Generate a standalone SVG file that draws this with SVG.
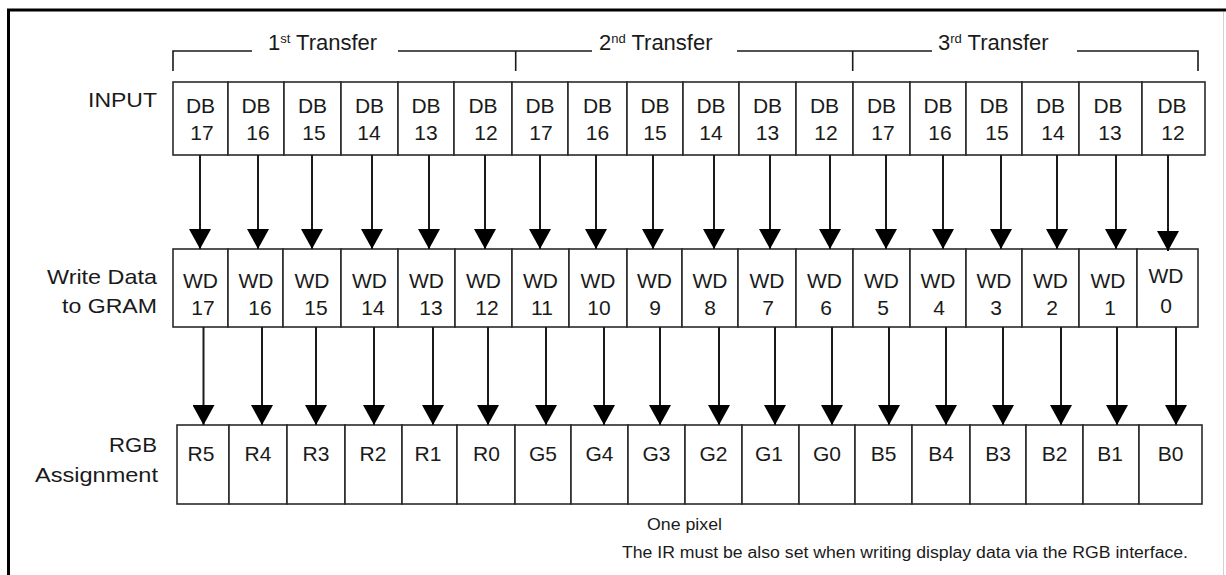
<svg xmlns="http://www.w3.org/2000/svg" width="1226" height="575" viewBox="0 0 1226 575">
<style>
  text { font-family: "Liberation Sans", Arial, sans-serif; fill: #1a1a1a; }
  .cell { fill: #ffffff; stroke: #2a2a2a; stroke-width: 1.6; }
  .ct { font-size: 21px; text-anchor: middle; }
  .lbl { font-size: 21px; text-anchor: end; }
  .ttl { font-size: 22px; }
  .note { font-size: 16px; }
  .brk { fill: none; stroke: #1a1a1a; stroke-width: 1.6; }
  .arr { stroke: #1a1a1a; stroke-width: 2; fill: none; marker-end: url(#ah); }
</style>
<defs>
  <marker id="ah" viewBox="0 0 20 22" markerWidth="20" markerHeight="22" refX="20" refY="11" orient="auto" markerUnits="userSpaceOnUse">
    <path d="M0,0 L20,11 L0,22 Z" fill="#000"/>
  </marker>
</defs>
<rect x="0" y="0" width="1226" height="575" fill="#ffffff"/>
<g id="frame">
  <line x1="8.5" y1="10" x2="8.5" y2="575" stroke="#000" stroke-width="3"/>
  <line x1="7" y1="10" x2="1226" y2="10" stroke="#000" stroke-width="3"/>
  <line x1="1223.5" y1="12" x2="1223.5" y2="575" stroke="#d0d0d0" stroke-width="1"/>
</g>
<g id="transfers">
  <path class="brk" d="M173,71 V51 H252 M398,51 H592 M515.7,51 V71 M737,51 H932 M852.7,51 V71 M1077,51 H1198 V71"/>
  <text class="ttl" x="268" y="50">1<tspan font-size="13" dy="-7">st</tspan><tspan dy="7"> Transfer</tspan></text>
  <text class="ttl" x="599" y="50">2<tspan font-size="13" dy="-7">nd</tspan><tspan dy="7"> Transfer</tspan></text>
  <text class="ttl" x="938" y="50">3<tspan font-size="13" dy="-7">rd</tspan><tspan dy="7"> Transfer</tspan></text>
</g>
<g id="row-labels">
  <text class="lbl" x="157" y="107" textLength="69" lengthAdjust="spacingAndGlyphs">INPUT</text>
  <text class="lbl" x="157" y="284" textLength="110" lengthAdjust="spacingAndGlyphs">Write Data</text>
  <text class="lbl" x="157" y="313" textLength="95" lengthAdjust="spacingAndGlyphs">to GRAM</text>
  <text class="lbl" x="157" y="452" textLength="48" lengthAdjust="spacingAndGlyphs">RGB</text>
  <text class="lbl" x="158" y="482" textLength="123" lengthAdjust="spacingAndGlyphs">Assignment</text>
</g>
<g id="input-row">
  <g id="in1-db17"><rect class="cell" x="173" y="82" width="55" height="73"/><text class="ct" x="200.5" y="113">DB</text><text class="ct" x="202" y="140">17</text></g>
  <g id="in1-db16"><rect class="cell" x="228" y="82" width="56" height="73"/><text class="ct" x="256" y="113">DB</text><text class="ct" x="258" y="140">16</text></g>
  <g id="in1-db15"><rect class="cell" x="284" y="82" width="57" height="73"/><text class="ct" x="312.5" y="113">DB</text><text class="ct" x="314" y="140">15</text></g>
  <g id="in1-db14"><rect class="cell" x="341" y="82" width="57" height="73"/><text class="ct" x="369.5" y="113">DB</text><text class="ct" x="369" y="140">14</text></g>
  <g id="in1-db13"><rect class="cell" x="398" y="82" width="56" height="73"/><text class="ct" x="426" y="113">DB</text><text class="ct" x="426" y="140">13</text></g>
  <g id="in1-db12"><rect class="cell" x="454" y="82" width="58" height="73"/><text class="ct" x="483" y="113">DB</text><text class="ct" x="486" y="140">12</text></g>
  <g id="in2-db17"><rect class="cell" x="512" y="82" width="56" height="73"/><text class="ct" x="540" y="113">DB</text><text class="ct" x="541" y="140">17</text></g>
  <g id="in2-db16"><rect class="cell" x="568" y="82" width="59" height="73"/><text class="ct" x="597.5" y="113">DB</text><text class="ct" x="597.5" y="140">16</text></g>
  <g id="in2-db15"><rect class="cell" x="627" y="82" width="56" height="73"/><text class="ct" x="655" y="113">DB</text><text class="ct" x="655" y="140">15</text></g>
  <g id="in2-db14"><rect class="cell" x="683" y="82" width="56" height="73"/><text class="ct" x="711" y="113">DB</text><text class="ct" x="711" y="140">14</text></g>
  <g id="in2-db13"><rect class="cell" x="739" y="82" width="57" height="73"/><text class="ct" x="767.5" y="113">DB</text><text class="ct" x="767.5" y="140">13</text></g>
  <g id="in2-db12"><rect class="cell" x="796" y="82" width="57" height="73"/><text class="ct" x="824.5" y="113">DB</text><text class="ct" x="826" y="140">12</text></g>
  <g id="in3-db17"><rect class="cell" x="853" y="82" width="57" height="73"/><text class="ct" x="881.5" y="113">DB</text><text class="ct" x="883" y="140">17</text></g>
  <g id="in3-db16"><rect class="cell" x="910" y="82" width="56" height="73"/><text class="ct" x="938" y="113">DB</text><text class="ct" x="940" y="140">16</text></g>
  <g id="in3-db15"><rect class="cell" x="966" y="82" width="56" height="73"/><text class="ct" x="994" y="113">DB</text><text class="ct" x="997" y="140">15</text></g>
  <g id="in3-db14"><rect class="cell" x="1022" y="82" width="57" height="73"/><text class="ct" x="1050.5" y="113">DB</text><text class="ct" x="1053" y="140">14</text></g>
  <g id="in3-db13"><rect class="cell" x="1079" y="82" width="63" height="73"/><text class="ct" x="1108" y="113">DB</text><text class="ct" x="1110" y="140">13</text></g>
  <g id="in3-db12"><rect class="cell" x="1142" y="82" width="63" height="73"/><text class="ct" x="1172" y="113">DB</text><text class="ct" x="1173" y="140">12</text></g>
</g>
<g id="wd-row">
  <g id="wd17"><rect class="cell" x="173" y="249" width="55" height="78"/><text class="ct" x="200.5" y="288">WD</text><text class="ct" x="203" y="315">17</text></g>
  <g id="wd16"><rect class="cell" x="228" y="249" width="55" height="78"/><text class="ct" x="256" y="288">WD</text><text class="ct" x="260" y="315">16</text></g>
  <g id="wd15"><rect class="cell" x="283" y="249" width="58" height="78"/><text class="ct" x="312" y="288">WD</text><text class="ct" x="316" y="315">15</text></g>
  <g id="wd14"><rect class="cell" x="341" y="249" width="57" height="78"/><text class="ct" x="369.5" y="288">WD</text><text class="ct" x="373" y="315">14</text></g>
  <g id="wd13"><rect class="cell" x="398" y="249" width="57" height="78"/><text class="ct" x="426.5" y="288">WD</text><text class="ct" x="431" y="315">13</text></g>
  <g id="wd12"><rect class="cell" x="455" y="249" width="57" height="78"/><text class="ct" x="483.5" y="288">WD</text><text class="ct" x="487" y="315">12</text></g>
  <g id="wd11"><rect class="cell" x="512" y="249" width="57" height="78"/><text class="ct" x="540.5" y="288">WD</text><text class="ct" x="542" y="315">11</text></g>
  <g id="wd10"><rect class="cell" x="569" y="249" width="58" height="78"/><text class="ct" x="598" y="288">WD</text><text class="ct" x="599" y="315">10</text></g>
  <g id="wd9"><rect class="cell" x="627" y="249" width="55" height="78"/><text class="ct" x="654.5" y="288">WD</text><text class="ct" x="655" y="315">9</text></g>
  <g id="wd8"><rect class="cell" x="682" y="249" width="56" height="78"/><text class="ct" x="710" y="288">WD</text><text class="ct" x="710" y="315">8</text></g>
  <g id="wd7"><rect class="cell" x="738" y="249" width="58" height="78"/><text class="ct" x="767" y="288">WD</text><text class="ct" x="768" y="315">7</text></g>
  <g id="wd6"><rect class="cell" x="796" y="249" width="57" height="78"/><text class="ct" x="824.5" y="288">WD</text><text class="ct" x="826" y="315">6</text></g>
  <g id="wd5"><rect class="cell" x="853" y="249" width="57" height="78"/><text class="ct" x="881.5" y="288">WD</text><text class="ct" x="883" y="315">5</text></g>
  <g id="wd4"><rect class="cell" x="910" y="249" width="56" height="78"/><text class="ct" x="938" y="288">WD</text><text class="ct" x="939" y="315">4</text></g>
  <g id="wd3"><rect class="cell" x="966" y="249" width="56" height="78"/><text class="ct" x="994" y="288">WD</text><text class="ct" x="996" y="315">3</text></g>
  <g id="wd2"><rect class="cell" x="1022" y="249" width="57" height="78"/><text class="ct" x="1050.5" y="288">WD</text><text class="ct" x="1052" y="315">2</text></g>
  <g id="wd1"><rect class="cell" x="1079" y="249" width="58" height="78"/><text class="ct" x="1108" y="288">WD</text><text class="ct" x="1110" y="315">1</text></g>
  <g id="wd0"><rect class="cell" x="1137" y="249" width="61" height="78"/><text class="ct" x="1166" y="283">WD</text><text class="ct" x="1166" y="313">0</text></g>
</g>
<g id="rgb-row">
  <g id="r5"><rect class="cell" x="177" y="425" width="52" height="79"/><text class="ct" x="201" y="461">R5</text></g>
  <g id="r4"><rect class="cell" x="229" y="425" width="58" height="79"/><text class="ct" x="258" y="461">R4</text></g>
  <g id="r3"><rect class="cell" x="287" y="425" width="58" height="79"/><text class="ct" x="316" y="461">R3</text></g>
  <g id="r2"><rect class="cell" x="345" y="425" width="57" height="79"/><text class="ct" x="373" y="461">R2</text></g>
  <g id="r1"><rect class="cell" x="402" y="425" width="55" height="79"/><text class="ct" x="428" y="461">R1</text></g>
  <g id="r0"><rect class="cell" x="457" y="425" width="58" height="79"/><text class="ct" x="486.5" y="461">R0</text></g>
  <g id="g5"><rect class="cell" x="515" y="425" width="56" height="79"/><text class="ct" x="543" y="461">G5</text></g>
  <g id="g4"><rect class="cell" x="571" y="425" width="57" height="79"/><text class="ct" x="599.5" y="461">G4</text></g>
  <g id="g3"><rect class="cell" x="628" y="425" width="57" height="79"/><text class="ct" x="656.5" y="461">G3</text></g>
  <g id="g2"><rect class="cell" x="685" y="425" width="57" height="79"/><text class="ct" x="713.5" y="461">G2</text></g>
  <g id="g1"><rect class="cell" x="742" y="425" width="57" height="79"/><text class="ct" x="769" y="461">G1</text></g>
  <g id="g0"><rect class="cell" x="799" y="425" width="56" height="79"/><text class="ct" x="827" y="461">G0</text></g>
  <g id="b5"><rect class="cell" x="855" y="425" width="57" height="79"/><text class="ct" x="883.5" y="461">B5</text></g>
  <g id="b4"><rect class="cell" x="912" y="425" width="58" height="79"/><text class="ct" x="941" y="461">B4</text></g>
  <g id="b3"><rect class="cell" x="970" y="425" width="56" height="79"/><text class="ct" x="998" y="461">B3</text></g>
  <g id="b2"><rect class="cell" x="1026" y="425" width="57" height="79"/><text class="ct" x="1054.5" y="461">B2</text></g>
  <g id="b1"><rect class="cell" x="1083" y="425" width="56" height="79"/><text class="ct" x="1110" y="461">B1</text></g>
  <g id="b0"><rect class="cell" x="1139" y="425" width="63" height="79"/><text class="ct" x="1170.5" y="461">B0</text></g>
</g>
<g id="connectors">
  <path class="arr" d="M200,155 V249"/>
  <path class="arr" d="M258,155 V249"/>
  <path class="arr" d="M312,155 V249"/>
  <path class="arr" d="M372,155 V249"/>
  <path class="arr" d="M429,155 V249"/>
  <path class="arr" d="M485,155 V249"/>
  <path class="arr" d="M540,155 V249"/>
  <path class="arr" d="M596,155 V249"/>
  <path class="arr" d="M653,155 V249"/>
  <path class="arr" d="M714,155 V249"/>
  <path class="arr" d="M770,155 V249"/>
  <path class="arr" d="M830,155 V249"/>
  <path class="arr" d="M886,155 V249"/>
  <path class="arr" d="M943,155 V249"/>
  <path class="arr" d="M1001,155 V249"/>
  <path class="arr" d="M1057,155 V249"/>
  <path class="arr" d="M1116,155 V249"/>
  <path class="arr" d="M1168,155 V251"/>
  <path class="arr" d="M203.5,327 V425"/>
  <path class="arr" d="M262,327 V425"/>
  <path class="arr" d="M316,327 V425"/>
  <path class="arr" d="M374,327 V425"/>
  <path class="arr" d="M433,327 V425"/>
  <path class="arr" d="M488,327 V425"/>
  <path class="arr" d="M546,327 V425"/>
  <path class="arr" d="M604,327 V425"/>
  <path class="arr" d="M660,327 V425"/>
  <path class="arr" d="M719,327 V425"/>
  <path class="arr" d="M775,327 V425"/>
  <path class="arr" d="M832,327 V425"/>
  <path class="arr" d="M889,327 V425"/>
  <path class="arr" d="M946,327 V425"/>
  <path class="arr" d="M1003,327 V425"/>
  <path class="arr" d="M1061,327 V425"/>
  <path class="arr" d="M1117,327 V425"/>
  <path class="arr" d="M1176,327 V425"/>
</g>
<g id="notes">
  <text class="note" x="647" y="530" textLength="75" lengthAdjust="spacingAndGlyphs">One pixel</text>
  <text class="note" x="622" y="558" textLength="566" lengthAdjust="spacingAndGlyphs">The IR must be also set when writing display data via the RGB interface.</text>
</g>
</svg>
